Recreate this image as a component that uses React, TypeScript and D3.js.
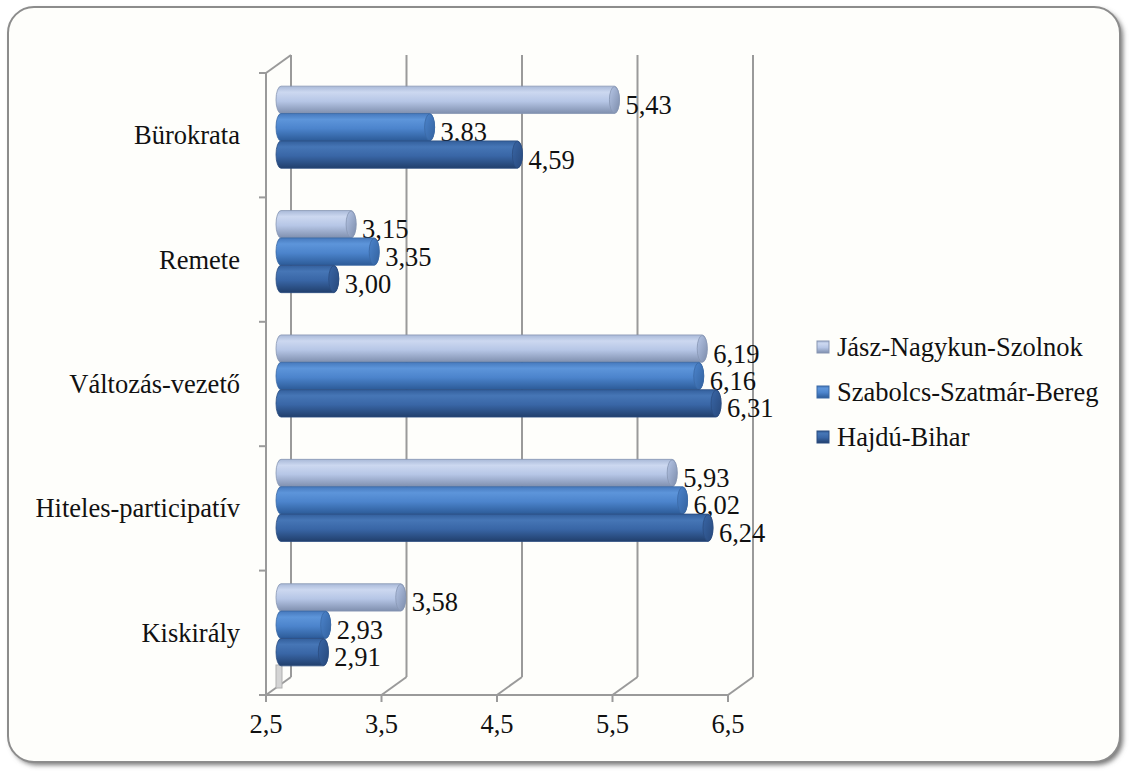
import React from "react";
import * as d3 from "d3";

const categories = ["Bürokrata", "Remete", "Változás-vezető", "Hiteles-participatív", "Kiskirály"];
const seriesNames = ["Jász-Nagykun-Szolnok", "Szabolcs-Szatmár-Bereg", "Hajdú-Bihar"];
const jaszValues = [5.43, 3.15, 6.19, 5.93, 3.58];
const szabolcsValues = [3.83, 3.35, 6.16, 6.02, 2.93];
const hajduValues = [4.59, 3.0, 6.31, 6.24, 2.91];
const xTicks = [2.5, 3.5, 4.5, 5.5, 6.5];

const seriesValues = [jaszValues, szabolcsValues, hajduValues];

// cylinder shading per series
const palettes = [
  { top: "#a9b9d8", hi: "#ccd8f0", mid: "#b6c6e6", bot: "#7f8fae", cap: "#7c8cab", stroke: "#8795b2" },
  { top: "#4679bd", hi: "#5d95da", mid: "#4c84cc", bot: "#2c5b98", cap: "#33629f", stroke: "#3a68a4" },
  { top: "#335f9c", hi: "#4676b6", mid: "#3966a6", bot: "#213f6c", cap: "#28497c", stroke: "#2b4d80" },
];

const W = 1129;
const H = 773;
const FONT = "Liberation Serif, Tinos, Times New Roman, DejaVu Serif, serif";
const FS = 26.5;

// plot geometry (front plane) and the 3D depth offsets
const plotTop = 73;
const plotBottom = 695;
const depthX = 25;
const depthY = -18;
const barDX = 10;
const barDY = -8;

export default function App() {
  const x = d3.scaleLinear().domain([2.5, 6.5]).range([266, 728]);
  const y = d3
    .scaleBand<string>()
    .domain(categories)
    .range([plotTop, plotBottom])
    .paddingInner(0.34)
    .paddingOuter(0.17);
  const ySeries = d3
    .scaleBand<string>()
    .domain(seriesNames)
    .range([0, y.bandwidth()])
    .padding(0);

  const bh = ySeries.bandwidth();
  const rx = 5;
  const gridColor = "#9a9a9a";

  const boundaries = d3.range(categories.length + 1).map((i) =>
    i === categories.length ? plotBottom : plotTop + (i * (plotBottom - plotTop)) / categories.length
  );

  return (
    <svg
      width={W}
      height={H}
      style={{ position: "absolute", left: 0, top: 0, fontFamily: FONT }}
      xmlns="http://www.w3.org/2000/svg"
    >
      <defs>
        <filter id="frameShadow" x="-5%" y="-5%" width="110%" height="110%">
          <feGaussianBlur stdDeviation="2.5" />
        </filter>
        {palettes.map((p, i) => (
          <linearGradient key={i} id={`cyl${i}`} x1="0" y1="0" x2="0" y2="1">
            <stop offset="0%" stopColor={p.top} />
            <stop offset="22%" stopColor={p.hi} />
            <stop offset="55%" stopColor={p.mid} />
            <stop offset="100%" stopColor={p.bot} />
          </linearGradient>
        ))}
        {palettes.map((p, i) => (
          <linearGradient key={i} id={`cap${i}`} x1="0" y1="0" x2="1" y2="1">
            <stop offset="0%" stopColor={p.mid} />
            <stop offset="100%" stopColor={p.cap} />
          </linearGradient>
        ))}
      </defs>

      {/* outer frame with soft shadow */}
      <rect x={11} y={10} width={1112} height={755} rx={26} fill="#777" filter="url(#frameShadow)" />
      <rect x={8} y={7} width={1112} height={755} rx={26} fill="#fefefb" stroke="#8c8c8c" strokeWidth={2} />

      {/* back wall gridlines with floor diagonals */}
      {xTicks.map((t) => (
        <g key={t} stroke={gridColor} strokeWidth={2} fill="none">
          <line x1={x(t) + depthX} x2={x(t) + depthX} y1={plotTop + depthY} y2={plotBottom + depthY} />
          <line x1={x(t)} y1={plotBottom} x2={x(t) + depthX} y2={plotBottom + depthY} />
        </g>
      ))}
      {/* side wall edges */}
      <line x1={x(2.5)} y1={plotTop} x2={x(2.5) + depthX} y2={plotTop + depthY} stroke={gridColor} strokeWidth={2} />
      <rect x={x(2.5) + 10} y={665} width={6} height={23} fill="#d4d4d4" stroke="#b0b0b0" strokeWidth={1} />

      {/* front axes */}
      <line x1={x(2.5)} x2={x(2.5)} y1={plotTop} y2={plotBottom} stroke={gridColor} strokeWidth={2} />
      <line x1={x(2.5)} x2={x(6.5) + 1} y1={plotBottom} y2={plotBottom} stroke={gridColor} strokeWidth={2} />
      {boundaries.map((b, i) => (
        <line key={i} x1={x(2.5) - 7} x2={x(2.5)} y1={b} y2={b} stroke={gridColor} strokeWidth={2} />
      ))}
      {xTicks.map((t) => (
        <line key={t} x1={x(t)} x2={x(t)} y1={plotBottom} y2={plotBottom + 7} stroke={gridColor} strokeWidth={2} />
      ))}

      {/* x tick labels */}
      {xTicks.map((t) => (
        <text key={t} x={x(t)} y={724} textAnchor="middle" dominantBaseline="central" fontSize={FS} fill="#111">
          {d3.format(".1f")(t).replace(".", ",")}
        </text>
      ))}

      {/* category labels */}
      {categories.map((c) => (
        <text
          key={c}
          x={240}
          y={(y(c) as number) + y.bandwidth() / 2}
          textAnchor="end"
          dominantBaseline="central"
          fontSize={FS}
          fill="#111"
        >
          {c}
        </text>
      ))}

      {/* cylinder bars */}
      {categories.map((c, ci) =>
        seriesNames.map((s, si) => {
          const v = seriesValues[si][ci];
          const y0 = (y(c) as number) + (ySeries(s) as number) + barDY;
          const x0 = x(2.5) + barDX;
          const x1 = x(v) + barDX;
          const r = bh / 2;
          const body = [
            `M${x0 + rx},${y0}`,
            `L${x1},${y0}`,
            `A${rx},${r} 0 0 1 ${x1},${y0 + bh}`,
            `L${x0 + rx},${y0 + bh}`,
            `A${rx},${r} 0 0 1 ${x0 + rx},${y0}`,
            "Z",
          ].join(" ");
          return (
            <g key={`${c}-${s}`}>
              <path d={body} fill={`url(#cyl${si})`} stroke={palettes[si].stroke} strokeWidth={0.8} />
              <ellipse
                cx={x1}
                cy={y0 + r}
                rx={rx}
                ry={r - 0.5}
                fill={`url(#cap${si})`}
                stroke={palettes[si].stroke}
                strokeWidth={0.8}
              />
              <text x={x1 + rx + 6} y={y0 + r + 5} dominantBaseline="central" fontSize={FS} fill="#111">
                {d3.format(".2f")(v).replace(".", ",")}
              </text>
            </g>
          );
        })
      )}

      {/* legend */}
      {seriesNames.map((s, si) => {
        const ly = 347 + si * 45;
        return (
          <g key={s}>
            <rect x={817} y={ly - 6} width={12} height={12} fill={`url(#cyl${si})`} stroke={palettes[si].stroke} strokeWidth={1} />
            <text x={837} y={ly} dominantBaseline="central" fontSize={FS} fill="#111">
              {s}
            </text>
          </g>
        );
      })}
    </svg>
  );
}
